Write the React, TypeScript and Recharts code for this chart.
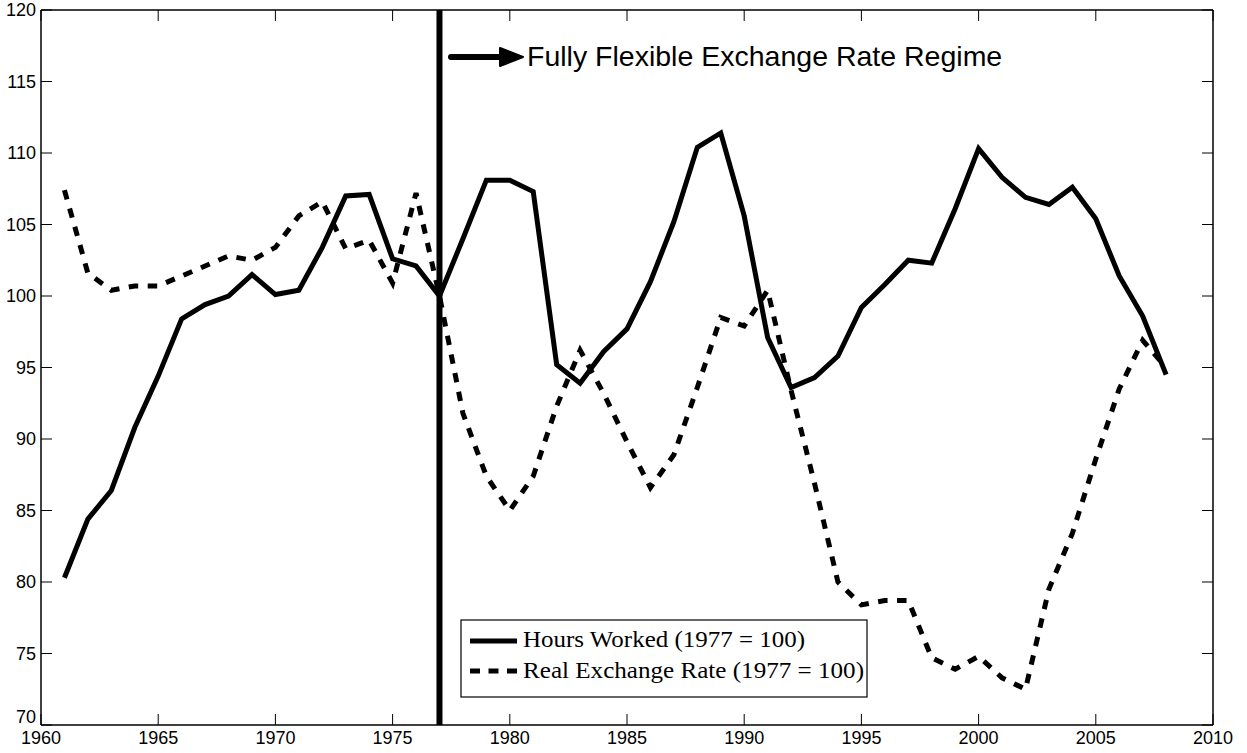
import React from "react";
import { LineChart, Line, XAxis, YAxis, ReferenceLine, Customized } from "recharts";

const years = [
  1961, 1962, 1963, 1964, 1965, 1966, 1967, 1968, 1969, 1970,
  1971, 1972, 1973, 1974, 1975, 1976, 1977, 1978, 1979, 1980,
  1981, 1982, 1983, 1984, 1985, 1986, 1987, 1988, 1989, 1990,
  1991, 1992, 1993, 1994, 1995, 1996, 1997, 1998, 1999, 2000,
  2001, 2002, 2003, 2004, 2005, 2006, 2007, 2008,
];

const hoursWorked = [
  80.3, 84.4, 86.4, 90.8, 94.4, 98.4, 99.4, 100.0, 101.5, 100.1,
  100.4, 103.4, 107.0, 107.1, 102.6, 102.1, 100.0, 104.0, 108.1, 108.1,
  107.3, 95.2, 93.9, 96.1, 97.7, 101.0, 105.2, 110.4, 111.4, 105.6,
  97.1, 93.6, 94.3, 95.8, 99.2, 100.8, 102.5, 102.3, 106.1, 110.3,
  108.3, 106.9, 106.4, 107.6, 105.4, 101.4, 98.6, 94.5,
];

const realExchangeRate = [
  107.4, 101.6, 100.4, 100.7, 100.7, 101.4, 102.1, 102.8, 102.5, 103.4,
  105.6, 106.6, 103.3, 103.9, 100.9, 107.2, 100.0, 91.8, 87.4, 85.0,
  87.4, 92.3, 96.2, 93.2, 89.8, 86.6, 88.9, 93.6, 98.5, 97.9,
  100.4, 93.4, 86.9, 80.0, 78.4, 78.7, 78.7, 74.7, 73.9, 74.8,
  73.3, 72.5, 79.5, 83.4, 88.6, 93.5, 96.9, 95.0,
];

const xTicks = [1960, 1965, 1970, 1975, 1980, 1985, 1990, 1995, 2000, 2005, 2010];
const yTicks = [70, 75, 80, 85, 90, 95, 100, 105, 110, 115, 120];

const regimeYear = 1977;
const annotationText = "Fully Flexible Exchange Rate Regime";
const legendLabels = ["Hours Worked (1977 = 100)", "Real Exchange Rate (1977 = 100)"];

const data = years.map((y, i) => ({
  year: y,
  hours: hoursWorked[i],
  rer: realExchangeRate[i],
}));

const SANS = "'Liberation Sans', Arial, sans-serif";
const SERIF = "'Liberation Serif', 'Times New Roman', serif";
const TICK_LEN = 11;

const BottomTick = (props: any) => {
  const { x, y, payload } = props;
  return (
    <g>
      <line x1={x} y1={y} x2={x} y2={y - TICK_LEN} stroke="#000" strokeWidth={1} />
      <text x={x} y={y + 19} textAnchor="middle" fontFamily={SANS} fontSize={18} fill="#000">
        {payload.value}
      </text>
    </g>
  );
};

const TopTick = (props: any) => {
  const { x, y } = props;
  return <line x1={x} y1={y} x2={x} y2={y + TICK_LEN} stroke="#000" strokeWidth={1} />;
};

const LeftTick = (props: any) => {
  const { x, y, payload } = props;
  const isBottom = payload.value === yTicks[0];
  return (
    <g>
      <line x1={x} y1={y} x2={x + TICK_LEN} y2={y} stroke="#000" strokeWidth={1} />
      <text
        x={x - 5}
        y={isBottom ? y - 8 : y}
        dy="0.35em"
        textAnchor="end"
        fontFamily={SANS}
        fontSize={18}
        fill="#000"
      >
        {payload.value}
      </text>
    </g>
  );
};

const RightTick = (props: any) => {
  const { x, y } = props;
  return <line x1={x} y1={y} x2={x - TICK_LEN} y2={y} stroke="#000" strokeWidth={1} />;
};

const Overlay = () => (
  <g>
    <line x1={451} y1={57} x2={506} y2={57} stroke="#000" strokeWidth={6} strokeLinecap="round" />
    <polygon points="500,48 523,57 500,66" fill="#000" stroke="#000" strokeWidth={2} strokeLinejoin="round" />
    <text x={527} y={66} fontFamily={SANS} fontSize={28.5} fill="#000">
      {annotationText}
    </text>
    <rect x={461} y={620} width={406} height={77} fill="#fff" stroke="#000" strokeWidth={1.2} />
    <line x1={470} y1={641} x2={517} y2={641} stroke="#000" strokeWidth={5} />
    <line x1={470} y1={671} x2={517} y2={671} stroke="#000" strokeWidth={5} strokeDasharray="10 8.5" />
    <text x={523} y={647} fontFamily={SERIF} fontSize={23} fill="#000" textLength={282} lengthAdjust="spacingAndGlyphs">
      {legendLabels[0]}
    </text>
    <text x={523} y={678} fontFamily={SERIF} fontSize={23} fill="#000" textLength={341} lengthAdjust="spacingAndGlyphs">
      {legendLabels[1]}
    </text>
  </g>
);

export default function App() {
  return (
    <div style={{ position: "absolute", left: 0, top: 0, width: 1247, height: 753, background: "#fff" }}>
      <LineChart width={1247} height={753} data={data} margin={{ top: 0, right: 0, bottom: 0, left: 0 }}>
        <XAxis
          xAxisId="b"
          dataKey="year"
          type="number"
          domain={[1960, 2010]}
          ticks={xTicks}
          interval={0}
          orientation="bottom"
          height={28}
          tickSize={0}
          tickMargin={0}
          tickLine={false}
          axisLine={{ stroke: "#000", strokeWidth: 1.5 }}
          tick={<BottomTick />}
          allowDataOverflow
        />
        <XAxis
          xAxisId="t"
          dataKey="year"
          type="number"
          domain={[1960, 2010]}
          ticks={xTicks}
          interval={0}
          orientation="top"
          height={10}
          tickSize={0}
          tickMargin={0}
          tickLine={false}
          axisLine={{ stroke: "#000", strokeWidth: 1.5 }}
          tick={<TopTick />}
          allowDataOverflow
        />
        <YAxis
          yAxisId="l"
          type="number"
          domain={[70, 120]}
          ticks={yTicks}
          interval={0}
          orientation="left"
          width={41}
          tickSize={0}
          tickMargin={0}
          tickLine={false}
          axisLine={{ stroke: "#000", strokeWidth: 1.5 }}
          tick={<LeftTick />}
          allowDataOverflow
        />
        <YAxis
          yAxisId="r"
          type="number"
          domain={[70, 120]}
          ticks={yTicks}
          interval={0}
          orientation="right"
          width={34}
          tickSize={0}
          tickMargin={0}
          tickLine={false}
          axisLine={{ stroke: "#000", strokeWidth: 1.5 }}
          tick={<RightTick />}
          allowDataOverflow
        />
        <Line
          xAxisId="t"
          yAxisId="r"
          type="linear"
          dataKey="rer"
          stroke="#000"
          strokeWidth={5}
          strokeDasharray="9.5 9.5"
          dot={false}
          activeDot={false}
          isAnimationActive={false}
        />
        <Line
          xAxisId="b"
          yAxisId="l"
          type="linear"
          dataKey="hours"
          stroke="#000"
          strokeWidth={5}
          dot={false}
          activeDot={false}
          isAnimationActive={false}
        />
        <ReferenceLine xAxisId="b" yAxisId="l" x={regimeYear} stroke="#000" strokeWidth={6} />
        <Customized component={Overlay} />
      </LineChart>
    </div>
  );
}
